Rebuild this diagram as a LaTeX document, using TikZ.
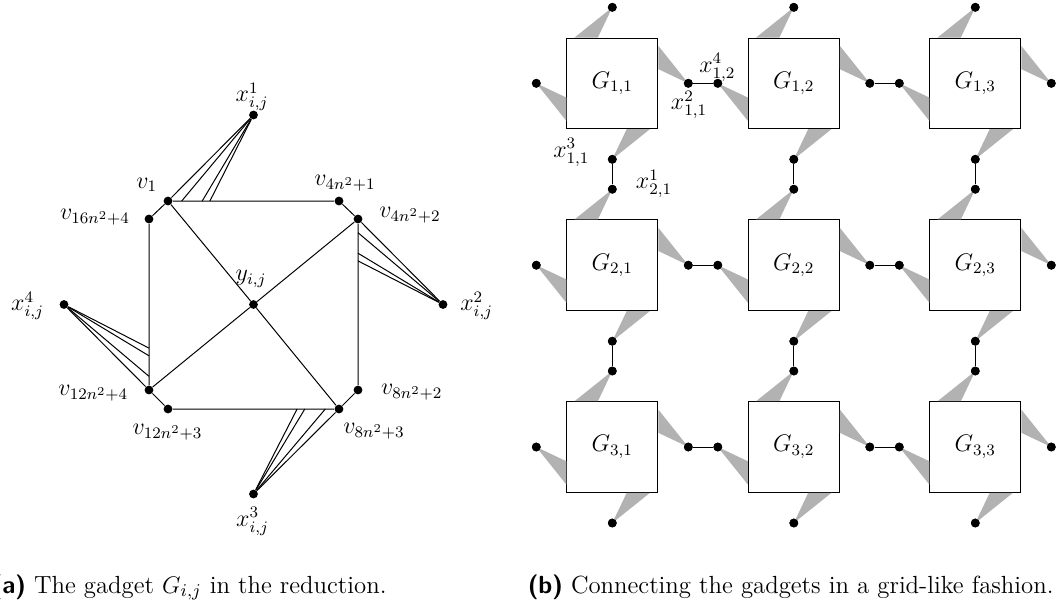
\documentclass[tikz,border=0pt]{standalone}
\usetikzlibrary{calc}
\begin{document}
\begin{tikzpicture}[x=0.5pt,y=-0.5pt,
  font=\fontsize{12}{14.4}\selectfont,
  dot/.style={circle,fill=black,inner sep=0pt,minimum size=4.4pt},
  gadget/.style={draw,rectangle,minimum width=45.5pt,minimum height=45.3pt,inner sep=0pt,line width=0.5pt},
  wedge/.style={fill=black!30},
  link/.style={line width=0.5pt},
  captext/.style={anchor=base east,inner sep=0pt,font=\fontsize{12.4}{15}\selectfont}]
\useasboundingbox (0,0) rectangle (1061,607);

% ---------- (a) the gadget ----------
\node[dot] (y)    at (253.5,304.5) {};
\node[dot] (v1)   at (168,201) {};
\node[dot] (v4a)  at (339,201) {};
\node[dot] (v4b)  at (358,219) {};
\node[dot] (v8a)  at (358,390) {};
\node[dot] (v8b)  at (339,409) {};
\node[dot] (v12a) at (168,409) {};
\node[dot] (v12b) at (149,390) {};
\node[dot] (v16)  at (149,219) {};
\node[dot] (x1)   at (253.5,115) {};
\node[dot] (x2)   at (443,304.5) {};
\node[dot] (x3)   at (253.5,494) {};
\node[dot] (x4)   at (64,304.5) {};

\draw[link] (v1)--(v4a)--(v4b)--(v8a)--(v8b)--(v12a)--(v12b)--(v16)--(v1);
\draw[link] (v1)--(y)--(v8b);
\draw[link] (v4b)--(y)--(v12b);

\draw[link] (x1)--(v1);
\draw[link] (x2)--(v4b);
\draw[link] (x3)--(v8b);
\draw[link] (x4)--(v12b);
\foreach \f/\n in {0.08/a,0.2/b,0.245/c}{
  \coordinate (fa\n) at ($(v1.center)!\f!(v4a.center)$);
  \coordinate (fb\n) at ($(v4b.center)!\f!(v8a.center)$);
  \coordinate (fc\n) at ($(v8b.center)!\f!(v12a.center)$);
  \coordinate (fd\n) at ($(v12b.center)!\f!(v16.center)$);
  \draw[link] (x1)--(fa\n);
  \draw[link] (x2)--(fb\n);
  \draw[link] (x3)--(fc\n);
  \draw[link] (x4)--(fd\n);
}

\node (lx1)   at (252,97)      {$x^1_{i,j}$};
\node (lv1)   at (146.7,185)   {$v_1$};
\node (lv16)  at (95,217.5)    {$v_{16n^2+4}$};
\node (lv4a)  at (345,183.3)   {$v_{4n^2+1}$};
\node (lv4b)  at (410,215)     {$v_{4n^2+2}$};
\node (ly)    at (251,279)     {$y_{i,j}$};
\node (lx4)   at (27.5,305.8)  {$x^4_{i,j}$};
\node (lx2)   at (476.7,306)   {$x^2_{i,j}$};
\node (lv12b) at (93.3,393.3)  {$v_{12n^2+4}$};
\node (lv8a)  at (411.7,392.5) {$v_{8n^2+2}$};
\node (lv12a) at (167.5,431.7) {$v_{12n^2+3}$};
\node (lv8b)  at (374,430.8)   {$v_{8n^2+3}$};
\node (lx3)   at (252.5,521.5) {$x^3_{i,j}$};

% ---------- (b) the grid ----------
\foreach \row/\cy in {1/83.3,2/265.2,3/447}{
  \foreach \col/\cx in {1/612.3,2/793.8,3/975.3}{
    \node[gadget] (G\row\col) at (\cx,\cy) {$G_{\row,\col}$};
    \node[dot] (t\row\col) at (\cx,\cy-76) {};
    \node[dot] (r\row\col) at (\cx+76,\cy) {};
    \node[dot] (b\row\col) at (\cx,\cy+76) {};
    \node[dot] (l\row\col) at (\cx-76,\cy) {};
    \fill[wedge] (t\row\col.center) -- ($(G\row\col.north west)+(8.3,0)$) -- ($(G\row\col.north west)+(31.6,0)$) -- cycle;
    \fill[wedge] (r\row\col.center) -- ($(G\row\col.north east)+(0,8.3)$) -- ($(G\row\col.north east)+(0,31.6)$) -- cycle;
    \fill[wedge] (b\row\col.center) -- ($(G\row\col.south east)+(-8.3,0)$) -- ($(G\row\col.south east)+(-31.6,0)$) -- cycle;
    \fill[wedge] (l\row\col.center) -- ($(G\row\col.south west)+(0,-8.3)$) -- ($(G\row\col.south west)+(0,-31.6)$) -- cycle;
    \node[dot] at (t\row\col) {};
    \node[dot] at (r\row\col) {};
    \node[dot] at (b\row\col) {};
    \node[dot] at (l\row\col) {};
  }
}
\foreach \row in {1,2,3}{
  \foreach \col/\nx in {1/2,2/3}{
    \draw[link] (r\row\col) -- (l\row\nx);
  }
}
\foreach \row/\nr in {1/2,2/3}{
  \foreach \col in {1,2,3}{
    \draw[link] (b\row\col) -- (t\nr\col);
  }
}

\node (lx412) at (717.3,67.3)  {$x^4_{1,2}$};
\node (lx211) at (689,105)     {$x^2_{1,1}$};
\node (lx311) at (571.3,152.3) {$x^3_{1,1}$};
\node (lx121) at (654,184)     {$x^1_{2,1}$};

% ---------- captions ----------
\node[captext] (capa) at (387,593)  {\textsf{\bfseries (a)} The gadget $G_{i,j}$ in the reduction.};
\node[captext] (capb) at (1054,593) {\textsf{\bfseries (b)} Connecting the gadgets in a grid-like fashion.};
\end{tikzpicture}
\end{document}
